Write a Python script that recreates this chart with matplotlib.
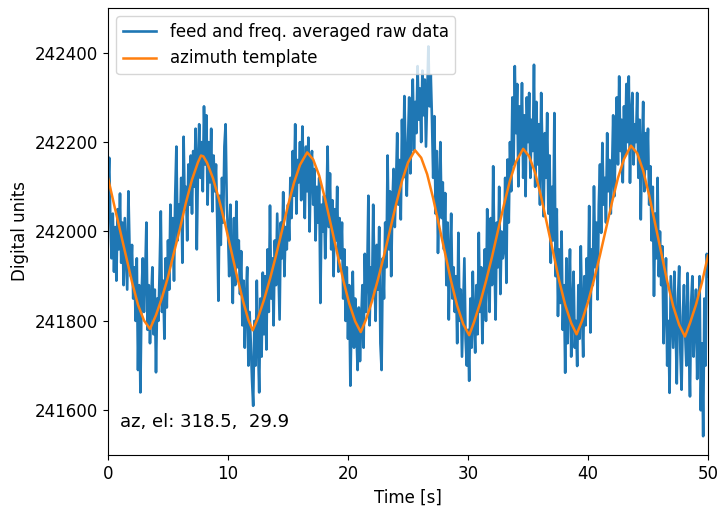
import numpy as np
import matplotlib
matplotlib.use("Agg")
import matplotlib.pyplot as plt

# raw data, sampled every 0.1 s, offsets from 242000 digital units
raw_offset = [
    90, 165, 20, -60, 40, -90, 10, -110, 50, -40,
    85, -70, 20, -120, 30, -50, -130, 90, -40, -100,
    -30, -150, -80, -200, -60, -310, -120, -360, -140, -60,
    -180, -100, 20, -220, -120, -250, -150, -80, -230, -130,
    -315, -150, -200, -90, 45, -180, -110, -240, -60, -170,
    -20, -130, 60, -60, 30, -110, 80, 190, -20, 60,
    10, 120, -70, 212, 50, 100, -20, 150, 60, 170,
    40, 180, 100, 230, -40, 150, 240, 120, 200, 90,
    280, 150, 260, 60, 200, 110, 230, 45, 170, 90,
    150, 30, -155, 80, -30, 120, 20, 190, 240, 60,
    0, -100, 60, -60, -160, 30, -120, 67, -80, -20,
    -140, -44, -210, -110, -260, -150, -80, -300, -180, -250,
    -330, -390, -200, -300, -110, -250, -360, -150, -280, -92,
    -230, -100, -264, -40, -180, 58, -150, -60, -210, -20,
    -120, 40, -80, -197, 20, -60, 88, -100, 10, -40,
    60, -20, 120, 30, 180, 80, 240, 40, 160, 110,
    200, 70, 235, 120, 30, 190, 90, 210, 0, 150,
    180, 60, 140, -20, 100, 20, 120, -160, 60, 0,
    80, -60, 40, 190, 10, 130, -40, 70, -100, 50,
    -20, 100, -90, 30, -60, 20, -150, -40, -200, -80,
    -240, -120, -345, -180, -90, -260, -150, -220, -310, -170,
    -290, -200, -120, -260, -50, -180, -100, 80, -210, -80,
    -150, 60, -90, -200, -30, -130, 10, -250, -310, -60,
    -150, 20, -80, 170, -40, 90, -100, 60, 140, 10,
    100, 220, 60, 160, 27, 250, 120, 303, 170, 80,
    200, 300, 130, 260, 340, 180, 290, 220, 370, 250,
    320, 200, 360, 260, 340, 190, 300, 414, 280, 350,
    250, 120, 258, 40, 180, -48, 90, 200, 30, 110,
    -40, 86, -120, 20, -197, -60, 40, -150, -80, -180,
    -100, -250, -3, -200, -130, -280, -170, -60, -240, -300,
    -220, -334, -150, -260, -90, -200, -271, -120, -230, -3,
    -180, -80, -250, -130, -40, -200, 50, -100, -180, 30,
    -120, 146, -50, -197, 20, -80, 100, -140, 0, -60,
    -40, 120, -115, 161, 20, 200, 90, 300, 150, 370,
    220, 330, 101, 280, 180, 332, 120, 260, 79, 300,
    200, 310, 120, 250, 180, 373, 100, 290, 150, 240,
    60, 310, 180, 34, 220, 120, 265, 40, 170, -70,
    100, -20, 265, -100, 50, -189, -40, -160, 0, -220,
    -120, -316, -60, -250, -150, -40, -280, -180, -90, -260,
    -200, -301, -120, -240, -33, -180, -280, -100, -210, -60,
    -150, 57, -226, -40, -120, 101, -80, 20, -152, 60,
    150, -3, 198, 60, 120, 20, 220, 90, 160, 40,
    130, 260, 79, 200, 300, 150, 347, 180, 250, 110,
    280, 170, 330, 200, 347, 109, 260, 310, 150, 240,
    200, 310, 120, 250, 27, 180, 290, 90, 220, 140,
    230, 60, 146, -20, 100, -144, 40, -60, 120, -100,
    0, -120, -33, -250, -150, -60, -300, -200, -361, -100,
    -180, -260, -90, -200, -340, -150, -78, -270, -354, -190,
    -120, -230, -300, -93, -250, -369, -160, -100, -280, -200,
    -130, -330, -200, -100, -400, -250, -458, -150, -300, -50,
    -100,
]
raw_time = np.arange(len(raw_offset)) * 0.1
raw = 242000 + np.array(raw_offset)

# azimuth template vertices
tmpl_time = [
    0.0, 0.5, 1.0, 1.5, 2.0, 2.5, 3.0, 3.5,
    4.0, 4.5, 5.0, 5.5, 6.0, 6.5, 7.0, 7.5, 7.75, 7.95,
    8.25, 8.75, 9.25, 9.75, 10.25, 10.75, 11.25, 11.7, 12.06,
    12.5, 13.0, 13.5, 14.0, 14.5, 15.0, 15.5, 16.0, 16.6,
    17.1, 17.6, 18.1, 18.6, 19.1, 19.6, 20.1, 20.6, 21.06,
    21.5, 22.0, 22.5, 23.0, 23.5, 24.0, 24.5, 25.0, 25.58,
    26.1, 26.6, 27.1, 27.6, 28.1, 28.6, 29.1, 29.6, 30.1,
    30.5, 31.0, 31.5, 32.0, 32.5, 33.0, 33.5, 34.0, 34.6,
    35.1, 35.6, 36.1, 36.6, 37.1, 37.6, 38.1, 38.6, 39.05,
    39.5, 40.0, 40.5, 41.0, 41.5, 42.0, 42.5, 43.0, 43.58,
    44.1, 44.6, 45.1, 45.6, 46.1, 46.6, 47.1, 47.6, 48.08,
    48.5, 49.0, 49.5, 50.0,
]
tmpl_value = [
    242120, 242061, 242003, 241945, 241887, 241836, 241801, 241782,
    241813, 241852, 241898, 241953, 242007, 242065, 242116, 242155, 242170, 242168,
    242154, 242119, 242072, 242018, 241959, 241900, 241845, 241802, 241779,
    241807, 241847, 241894, 241946, 242002, 242058, 242109, 242149, 242177,
    242161, 242125, 242072, 242012, 241952, 241892, 241839, 241799, 241775,
    241803, 241844, 241893, 241946, 242003, 242060, 242113, 242154, 242182,
    242165, 242128, 242074, 242012, 241950, 241888, 241834, 241793, 241768,
    241797, 241839, 241889, 241943, 242002, 242060, 242114, 242156, 242185,
    242168, 242131, 242077, 242015, 241953, 241890, 241836, 241795, 241770,
    241800, 241842, 241892, 241947, 242006, 242065, 242120, 242162, 242192,
    242175, 242136, 242081, 242017, 241953, 241889, 241833, 241791, 241765,
    241795, 241836, 241886, 241946,
]

az, el = 318.5, 29.9

plt.rcParams['font.size'] = 12

fig = plt.figure(figsize=(7.2, 5.07), dpi=100)
ax = fig.add_axes([0.15, 0.1026, 0.8333, 0.8816])

ax.plot(raw_time, raw, color='#1f77b4', lw=1.9, label='feed and freq. averaged raw data')
ax.plot(tmpl_time, tmpl_value, color='#ff7f0e', lw=1.8, label='azimuth template')

ax.text(1.0, 241562, 'az, el: %5.1f, %5.1f' % (az, el), fontsize=13)

ax.set_xlim(0, 50)
ax.set_ylim(241500, 242500)
ax.set_yticks([241600, 241800, 242000, 242200, 242400])
ax.set_xlabel('Time [s]')
ax.set_ylabel('Digital units')
ax.legend(loc='upper left')

fig.savefig('out.png', dpi=100)
